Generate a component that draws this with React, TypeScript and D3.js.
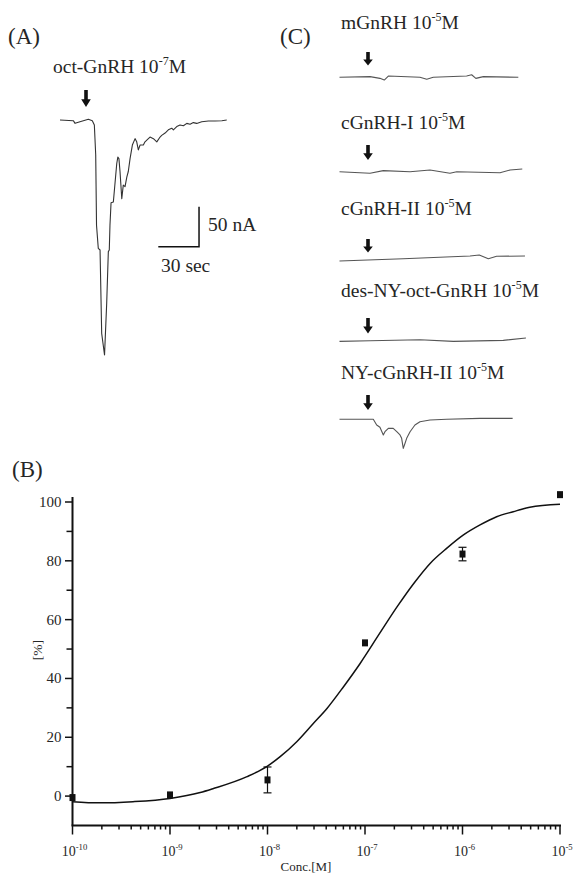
import React from "react";
import * as d3 from "d3";

// (A) oct-GnRH 10^-7 M, [time s, current nA]
const octTrace: [number, number][] = [
  [0, 1.2], [9.8, 0.4], [11.1, -2.9], [14.7, -0.9], [20.9, 2.1], [23.8, 0.4], [25.3, -5],
  [26.3, -42], [26.9, -130], [28.2, -159], [29.5, -161], [30.7, -265], [32.8, -292],
  [34.4, -227], [35.6, -163], [36.3, -161], [36.8, -130], [37.6, -102], [39.3, -101],
  [41.8, -53], [42.6, -45], [43.4, -47], [44.2, -63], [45.5, -97], [46.6, -80], [47.9, -82],
  [49.2, -70], [50.3, -63], [51.6, -47], [53.3, -30], [55.3, -22], [56.5, -26], [57.7, -36],
  [59.0, -30], [61.4, -30], [62.6, -26], [65.1, -22], [66.3, -20], [68.8, -22], [71.3, -26],
  [73.7, -20], [74.9, -18], [77.4, -15], [79.8, -11], [82.3, -9], [83.5, -11], [86.0, -7],
  [88.4, -5], [90.9, -6], [93.4, -3], [95.8, -4], [98.2, -2], [100.7, -3], [104.4, -1],
  [109.3, 0], [114.2, 0], [119.2, 0.4], [122.8, 1.2],
];
const scaleBarNA = 50;
const scaleBarSec = 30;

// (C) 10^-5 M responses, [time s, current nA]
const cNames = ["mGnRH", "cGnRH-I", "cGnRH-II", "des-NY-oct-GnRH", "NY-cGnRH-II"];
const cTraces: [number, number][][] = [
  [[0, 0], [22.5, 0.8], [29.8, -1.3], [33, -3.4], [36, 1.6], [59.3, 0], [64.3, -2.5], [69.1, 0],
    [93.7, 1.6], [97.4, 3.2], [100.5, -1.3], [106, 0.8], [131.8, 0]],
  [[0, 0], [22.5, -2], [32.3, 1.3], [52, 0], [66.7, 2.1], [81.4, -2], [86.4, 0], [118.3, -1.3],
    [125.7, 2.1], [134.7, 3.4]],
  [[0, -1.3], [47, 1.6], [96.2, 5], [103, 6.2], [109.7, 1.6], [115.8, 4.6], [136.7, 5]],
  [[0, -0.9], [22.5, 0], [59.3, 1.2], [83.9, -0.9], [120.7, 0.4], [137.4, 3.4]],
  [[0, 0], [24.9, 0], [27.4, -7.1], [29.8, -10], [32.3, -19.6], [33.5, -15.5], [36, -11.3],
    [39.6, -11.3], [42.2, -15.5], [44.6, -19.6], [45.8, -23.8], [47, -36.3], [48.3, -30],
    [49.5, -23.8], [52, -15.5], [55.6, -7.1], [59.3, -3], [66.7, -0.9], [79, 0], [103.5, 1.2],
    [127.6, 1.2]],
];

// (B) dose response
const concExp = [-10, -9, -8, -7, -6, -5];
const responsePct = [-0.5, 0.4, 5.5, 52.1, 82.3, 102.5];
const responseErr = [0, 0, 4.4, 0, 2.3, 0];
const fitLogConc = [-10, -9.72, -9.38, -9.0, -8.69, -8.56, -8.21, -8.0, -7.87, -7.7, -7.53,
  -7.39, -7.22, -7.05, -6.85, -6.67, -6.5, -6.33, -6.16, -5.99, -5.82, -5.65, -5.48, -5.31, -5.0];
const fitPct = [-1.9, -2.3, -1.9, -0.8, 1.2, 2.5, 6.6, 10.2, 13.4, 18.5, 24.7, 29.8, 37.2, 45.1,
  55.3, 64.4, 72.3, 79.2, 84.3, 88.8, 92.2, 95.0, 96.7, 98.2, 99.2];
const yMajor = [0, 20, 40, 60, 80, 100];
const yMinor = [10, 30, 50, 70, 90];

const FONT = "'Liberation Serif', 'Times New Roman', serif";
const INK = "#262626";

function Arrow({ x, top, bottom }: { x: number; top: number; bottom: number }) {
  const len = bottom - top;
  const neck = top + len * 0.55;
  const sw = 1.8;
  const hw = 4.8;
  const d = `M${x - sw},${top} L${x + sw},${top} L${x + sw},${neck} L${x + hw},${neck} L${x},${bottom} L${x - hw},${neck} L${x - sw},${neck} Z`;
  return <path d={d} fill="#111" />;
}

function SupText({ x, y, base, sup, tail, size, anchor = "start" }: any) {
  const s = size * 0.62;
  const r = size * 0.42;
  return (
    <text x={x} y={y} fontSize={size} textAnchor={anchor} fontFamily={FONT} fill={INK}>
      {base}
      <tspan fontSize={s} dy={-r}>{sup}</tspan>
      <tspan dy={r}>{tail}</tspan>
    </text>
  );
}

export default function App() {
  // panel A
  const xA = d3.scaleLinear().domain([0, 123]).range([60, 227]);
  const yA = d3.scaleLinear().domain([0, -292]).range([121, 355]);
  const lineA = d3.line<[number, number]>().x((d) => xA(d[0])).y((d) => yA(d[1]));
  const barT = 102.4;
  const barI = -157;

  // panel C
  const xC = d3.scaleLinear().domain([0, 132]).range([339.5, 518.6]);
  const cRows = [
    { label: 29.3, arrowTop: 52, arrowBottom: 65.5, base: 77.3 },
    { label: 129.3, arrowTop: 145, arrowBottom: 160, base: 171.7 },
    { label: 215, arrowTop: 239, arrowBottom: 252.5, base: 260 },
    { label: 296.7, arrowTop: 318, arrowBottom: 333.5, base: 340.7 },
    { label: 379.3, arrowTop: 395, arrowBottom: 410, base: 419.3 },
  ];

  // panel B
  const xB = d3.scaleLog().domain([1e-10, 1e-5]).range([72.5, 560]);
  const yB = d3.scaleLinear().domain([-10, 100]).range([825.5, 502]);
  const axisY = yB(-10);
  const fitLine = d3
    .line<number>()
    .x((d) => xB(Math.pow(10, d)))
    .y((_, i) => yB(fitPct[i]))
    .curve(d3.curveMonotoneX);
  const xTicks = xB.ticks();

  return (
    <svg width={575} height={873} style={{ position: "absolute", left: 0, top: 0, background: "#fff" }}>
      {/* (A) */}
      <text x={8} y={44} fontSize={23} fontFamily={FONT} fill={INK}>(A)</text>
      <SupText x={53} y={73} base="oct-GnRH 10" sup="-7" tail="M" size={19.5} />
      <Arrow x={86} top={90} bottom={107} />
      <path d={lineA(octTrace) || ""} fill="none" stroke="#333" strokeWidth={1.1} strokeLinejoin="round" />
      <path
        d={`M${xA(barT - scaleBarSec)},${yA(barI)} L${xA(barT)},${yA(barI)} L${xA(barT)},${yA(barI + scaleBarNA)}`}
        fill="none" stroke="#111" strokeWidth={1.5}
      />
      <text x={208} y={231} fontSize={19.5} fontFamily={FONT} fill={INK}>{scaleBarNA} nA</text>
      <text x={161} y={272} fontSize={19.5} fontFamily={FONT} fill={INK}>{scaleBarSec} sec</text>

      {/* (C) */}
      <text x={280} y={44} fontSize={23} fontFamily={FONT} fill={INK}>(C)</text>
      {cNames.map((name, i) => {
        const row = cRows[i];
        const yC = d3.scaleLinear().domain([0, -50]).range([row.base, row.base + 40]);
        const ln = d3.line<[number, number]>().x((d) => xC(d[0])).y((d) => yC(d[1]));
        return (
          <g key={name}>
            <SupText x={341} y={row.label} base={`${name} 10`} sup="-5" tail="M" size={19.5} />
            <Arrow x={368} top={row.arrowTop} bottom={row.arrowBottom} />
            <path d={ln(cTraces[i]) || ""} fill="none" stroke="#555" strokeWidth={1.1} strokeLinejoin="round" />
          </g>
        );
      })}

      {/* (B) */}
      <text x={12} y={477} fontSize={23} fontFamily={FONT} fill={INK}>(B)</text>
      <line x1={72.5} x2={72.5} y1={yB(101.7)} y2={axisY} stroke="#111" strokeWidth={2} />
      <line x1={71.5} x2={561} y1={axisY} y2={axisY} stroke="#111" strokeWidth={2} />
      {yMajor.map((v) => (
        <g key={"ym" + v}>
          <line x1={65} x2={72.5} y1={yB(v)} y2={yB(v)} stroke="#111" strokeWidth={1.5} />
          <text x={61.5} y={yB(v) + 5} fontSize={15} textAnchor="end" fontFamily={FONT} fill={INK}>{v}</text>
        </g>
      ))}
      {yMinor.map((v) => (
        <line key={"yn" + v} x1={66.5} x2={72.5} y1={yB(v)} y2={yB(v)} stroke="#111" strokeWidth={1.5} />
      ))}
      {xTicks.map((t, i) => {
        const major = Math.abs(Math.log10(t) - Math.round(Math.log10(t))) < 1e-6;
        return (
          <line key={"xt" + i} x1={xB(t)} x2={xB(t)} y1={axisY} y2={axisY + (major ? 9 : 4)} stroke="#111" strokeWidth={1.5} />
        );
      })}
      {concExp.map((e) => (
        <SupText key={"xl" + e} x={xB(Math.pow(10, e)) + 2} y={856} base="10" sup={String(e)} tail="" size={14} anchor="middle" />
      ))}
      <text x={306} y={871} fontSize={13} textAnchor="middle" fontFamily={FONT} fill={INK}>Conc.[M]</text>
      <text transform={`translate(42,650) rotate(-90)`} fontSize={13.5} textAnchor="middle" fontFamily={FONT} fill={INK}>[%]</text>

      <path d={fitLine(fitLogConc) || ""} fill="none" stroke="#111" strokeWidth={1.5} />
      {concExp.map((e, i) => {
        const cx = xB(Math.pow(10, e));
        const cy = yB(responsePct[i]);
        const err = responseErr[i];
        return (
          <g key={"pt" + e}>
            {err > 0 && (
              <g stroke="#111" strokeWidth={1.2}>
                <line x1={cx} x2={cx} y1={yB(responsePct[i] + err)} y2={yB(responsePct[i] - err)} />
                <line x1={cx - 4} x2={cx + 4} y1={yB(responsePct[i] + err)} y2={yB(responsePct[i] + err)} />
                <line x1={cx - 4} x2={cx + 4} y1={yB(responsePct[i] - err)} y2={yB(responsePct[i] - err)} />
              </g>
            )}
            <rect x={cx - 3} y={cy - 3.5} width={6} height={7} fill="#111" />
          </g>
        );
      })}
    </svg>
  );
}
